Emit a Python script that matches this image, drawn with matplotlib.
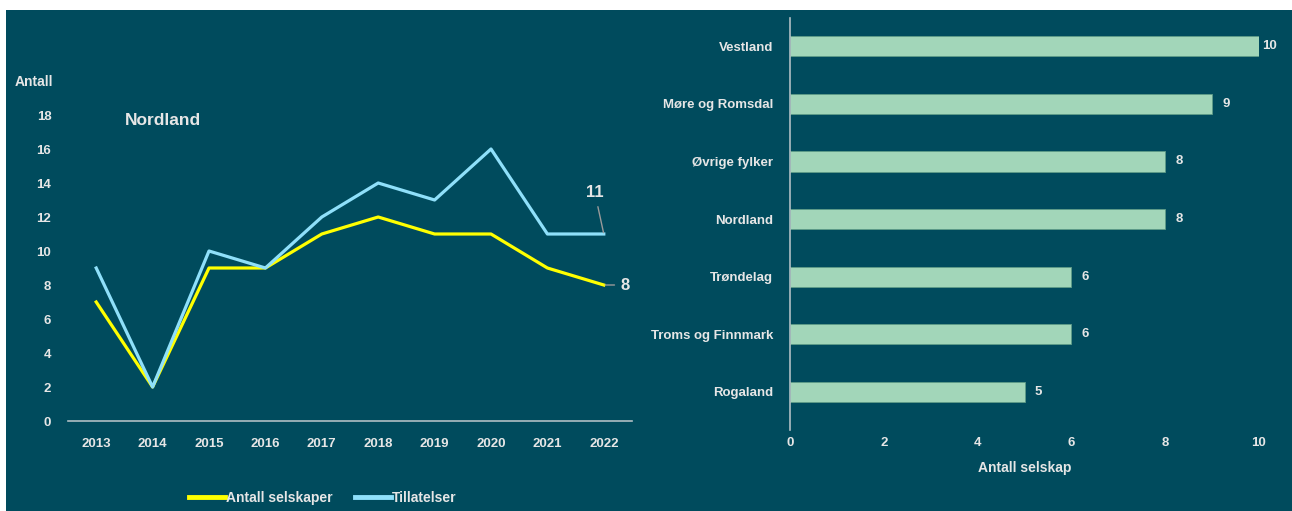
import numpy as np
import matplotlib.pyplot as plt
from matplotlib.patches import Rectangle

years = ['2013', '2014', '2015', '2016', '2017', '2018', '2019', '2020', '2021', '2022']
antall_selskaper = [7, 2, 9, 9, 11, 12, 11, 11, 9, 8]
tillatelser = [9, 2, 10, 9, 12, 14, 13, 16, 11, 11]

fylker = ['Rogaland', 'Troms og Finnmark', 'Trøndelag', 'Nordland', 'Øvrige fylker', 'Møre og Romsdal', 'Vestland']
selskap = [5, 6, 6, 8, 8, 9, 10]

BG = '#004b5d'
TXT = '#e6e6e6'
YELLOW = '#ffff00'
BLUE = '#8fe0fa'
GREEN = '#a2d6b9'

plt.rcParams['font.family'] = ['Liberation Sans Narrow', 'Liberation Sans', 'DejaVu Sans']
plt.rcParams['font.weight'] = 'bold'
plt.rcParams['axes.labelweight'] = 'bold'

W, H = 1292, 511
fig = plt.figure(figsize=(12.92, 5.11), dpi=100)
fig.patch.set_facecolor('white')
fig.patches.append(Rectangle((6 / W, 0), 1 - 6 / W, 1 - 10 / H,
                             transform=fig.transFigure, facecolor=BG, edgecolor='none', zorder=-1))

# left: line chart
ax = fig.add_axes([68 / W, (H - 421) / H, (632 - 68) / W, (421 - 115) / H])
ax.set_facecolor('none')
x = np.arange(len(years))
ax.plot(x, antall_selskaper, color=YELLOW, lw=2.3, label='Antall selskaper')
ax.plot(x, tillatelser, color=BLUE, lw=2.3, label='Tillatelser')
ax.set_xlim(-0.5, 9.5)
ax.set_ylim(0, 18)
ax.set_yticks(range(0, 19, 2))
ax.set_xticks(x)
ax.set_xticklabels(years)
for s in ['top', 'right', 'left']:
    ax.spines[s].set_visible(False)
ax.spines['bottom'].set_color('#b0bfc4')
ax.spines['bottom'].set_linewidth(1.2)
ax.tick_params(length=0, colors=TXT, labelsize=9.5)
ax.tick_params(axis='x', pad=12)
ax.tick_params(axis='y', pad=12)
ax.text(-1.1, 19.95, 'Antall', color=TXT, fontsize=10, ha='center', va='center', clip_on=False)
ax.text(0.5, 17.7, 'Nordland', color=TXT, fontsize=12.5, ha='left', va='center')

ax.annotate(str(tillatelser[-1]), xy=(9, tillatelser[-1]), xytext=(8.84, 13.45),
            color=TXT, fontsize=12, ha='center', va='center',
            arrowprops=dict(arrowstyle='-', color='#9a9a9a', lw=1, shrinkA=3, shrinkB=1),
            annotation_clip=False)
ax.annotate(str(antall_selskaper[-1]), xy=(9, antall_selskaper[-1]), xytext=(9.37, antall_selskaper[-1]),
            color=TXT, fontsize=12, ha='center', va='center',
            arrowprops=dict(arrowstyle='-', color='#9a9a9a', lw=1, shrinkA=2, shrinkB=1),
            annotation_clip=False)

leg = ax.legend(loc='center', bbox_to_anchor=(0.452, -0.25), ncol=2, frameon=False,
                handlelength=2.6, handletextpad=0.05, columnspacing=1.6, fontsize=10)
for t in leg.get_texts():
    t.set_color(TXT)
for h in leg.get_lines():
    h.set_linewidth(3.5)

# right: bar chart
ax2 = fig.add_axes([790 / W, (H - 430) / H, (1259 - 790) / W, (430 - 18) / H])
ax2.set_facecolor('none')
y = np.arange(len(fylker))
bars = ax2.barh(y, selskap, height=0.35, color=GREEN, edgecolor='#5f9c88', linewidth=0.6)
ax2.set_xlim(0, 10)
ax2.set_ylim(-0.66, 6.49)
ax2.set_yticks(y)
ax2.set_yticklabels(fylker)
ax2.set_xticks(range(0, 11, 2))
for s in ['top', 'right', 'bottom']:
    ax2.spines[s].set_visible(False)
ax2.spines['left'].set_color('#b0bfc4')
ax2.spines['left'].set_linewidth(1.2)
ax2.tick_params(length=0, colors=TXT, labelsize=9.5)
ax2.tick_params(axis='y', pad=12)
ax2.tick_params(axis='x', pad=5)
ax2.set_xlabel('Antall selskap', color=TXT, fontsize=10, labelpad=9)
for b, v in zip(bars, selskap):
    ax2.text(v + 0.22 if v < 10 else v + 0.06, b.get_y() + b.get_height() / 2, str(v),
             color=TXT, fontsize=9.5, ha='left', va='center', clip_on=False)

fig.savefig('out.png', dpi=100, facecolor=fig.get_facecolor())
